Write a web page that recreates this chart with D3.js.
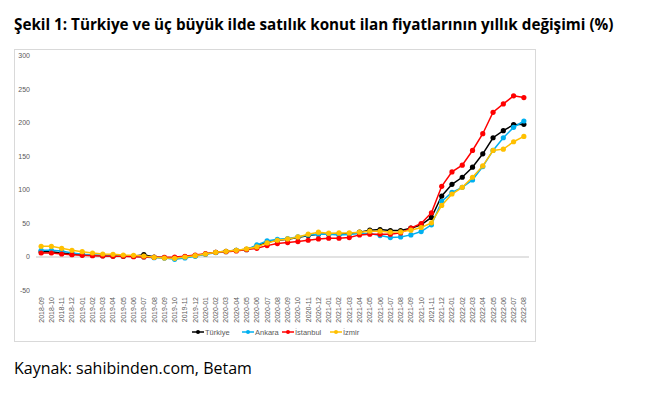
<!DOCTYPE html>
<html>
<head>
<meta charset="utf-8">
<script src="https://cdn.jsdelivr.net/npm/d3@7"></script>
<style>
  body { margin: 0; background: #fff; }
  svg text { font-family: "Liberation Sans", Arial, sans-serif; }
</style>
</head>
<body>
<div id="chart"></div>
<script>
var months = ["2018-09","2018-10","2018-11","2018-12","2019-01","2019-02","2019-03","2019-04","2019-05","2019-06",
  "2019-07","2019-08","2019-09","2019-10","2019-11","2019-12","2020-01","2020-02","2020-03","2020-04",
  "2020-05","2020-06","2020-07","2020-08","2020-09","2020-10","2020-11","2020-12","2021-01","2021-02",
  "2021-03","2021-04","2021-05","2021-06","2021-07","2021-08","2021-09","2021-10","2021-11","2021-12",
  "2022-01","2022-02","2022-03","2022-04","2022-05","2022-06","2022-07","2022-08"];

var turkiye = [8, 8, 6, 4.5, 3.5, 2.5, 2, 1.5, 1, 1,
  3.5, 0, -1, -1.5, 0, 2, 4.5, 7, 8.5, 10,
  11.5, 16, 22, 25, 26.5, 29, 32, 34, 34, 34,
  35, 37, 40, 41, 39.5, 39.5, 43, 48, 59, 91,
  108.5, 119, 134, 154, 178, 188.5, 197.5, 198];

var ankara = [10, 10, 9, 6, 4, 3, 2.5, 2, 1.5, 1,
  0, -1, -1.5, -3.5, -1.5, 1, 4, 6.5, 8, 10,
  11, 18, 24, 26.5, 27.5, 30, 33, 34, 34, 33,
  33.5, 35, 35, 32, 29, 30, 33, 38, 48, 83,
  96.5, 104, 115, 135, 159, 178, 193.5, 203];

var istanbul = [6, 6, 4.5, 3.5, 2.5, 2, 1.5, 1, 1, 0.5,
  0, -0.5, -0.5, 0, 1, 3, 5, 7, 8, 9,
  11, 13, 17, 20, 21.5, 23, 25, 27, 28, 28,
  29, 33, 34, 34, 34, 36, 43, 50, 66, 105.5,
  127, 137, 159, 184, 216, 228.5, 240.5, 238];

var izmir = [16, 16, 13, 10, 8, 6, 4.5, 4, 3, 2.5,
  1.5, -0.5, -1.5, -2, 0, 2, 4.5, 7, 8.5, 10,
  12, 15, 21, 25, 27, 30, 34, 37, 35.5, 36,
  36, 37, 38.5, 38.5, 37, 37.5, 40, 44, 51, 77,
  94, 104, 119, 136, 159, 161, 172, 180];

var seriesNames = ["Türkiye", "Ankara", "İstanbul", "İzmir"];
var seriesColors = ["#000000", "#00B0F0", "#FF0000", "#FFC000"];
var seriesValues = [turkiye, ankara, istanbul, izmir];
var yTicks = [-50, 0, 50, 100, 150, 200, 250, 300];

var titleText = "Şekil 1: Türkiye ve üç büyük ilde satılık konut ilan fiyatlarının yıllık değişimi (%)";
var sourceText = "Kaynak: sahibinden.com, Betam";

var width = 647, height = 399;

var svg = d3.select("#chart").append("svg")
  .attr("width", width)
  .attr("height", height);

// squeeze a text horizontally so it spans the target width
function fitText(sel, x0, y0, target) {
  var w = sel.node().getComputedTextLength();
  sel.attr("transform", "translate(" + x0 + "," + y0 + ") scale(" + (target / w) + ",1)");
}

var title = svg.append("text")
  .style("font-family", "'Open Sans', sans-serif")
  .style("font-weight", "bold")
  .style("font-size", "16px")
  .attr("fill", "#000")
  .text(titleText);
fitText(title, 14, 30, 600);

// chart frame
svg.append("rect")
  .attr("x", 14.5).attr("y", 49.5)
  .attr("width", 521).attr("height", 292)
  .attr("fill", "#fff")
  .attr("stroke", "#d9d9d9");

var x = d3.scaleBand().domain(months).range([36, 529]);
var y = d3.scaleLinear().domain([-50, 300]).range([290.5, 56]);
var cx = function(i) { return x(months[i]) + x.bandwidth() / 2; };

// y axis labels
svg.append("g")
  .selectAll("text")
  .data(yTicks)
  .join("text")
    .attr("x", 30)
    .attr("y", d => y(d))
    .attr("dy", "0.35em")
    .attr("text-anchor", "end")
    .attr("fill", "#595959")
    .style("font-size", "7px")
    .text(d => d);

// zero line
svg.append("line")
  .attr("x1", 36).attr("x2", 529)
  .attr("y1", y(0)).attr("y2", y(0))
  .attr("stroke", "#d9d9d9")
  .attr("stroke-width", 1.5);

// x labels (low position)
svg.append("g")
  .selectAll("text")
  .data(months)
  .join("text")
    .attr("transform", (d, i) => "translate(" + cx(i) + ",297) rotate(-90)")
    .attr("dy", "0.35em")
    .attr("text-anchor", "end")
    .attr("fill", "#595959")
    .style("font-size", "7px")
    .text(d => d);

var line = d3.line()
  .x((d, i) => cx(i))
  .y(d => y(d));

seriesValues.forEach(function(vals, k) {
  var g = svg.append("g");
  g.append("path")
    .datum(vals)
    .attr("fill", "none")
    .attr("stroke", seriesColors[k])
    .attr("stroke-width", 1.5)
    .attr("d", line);
  g.selectAll("circle")
    .data(vals)
    .join("circle")
      .attr("cx", (d, i) => cx(i))
      .attr("cy", d => y(d))
      .attr("r", 2.6)
      .attr("fill", seriesColors[k]);
});

// legend
var legendX = [192, 242, 282, 330];
var legend = svg.append("g");
seriesNames.forEach(function(name, k) {
  var lx = legendX[k], ly = 332;
  legend.append("line")
    .attr("x1", lx).attr("x2", lx + 12)
    .attr("y1", ly).attr("y2", ly)
    .attr("stroke", seriesColors[k])
    .attr("stroke-width", 1.5);
  legend.append("circle")
    .attr("cx", lx + 6).attr("cy", ly).attr("r", 2)
    .attr("fill", seriesColors[k]);
  legend.append("text")
    .attr("x", lx + 13).attr("y", ly)
    .attr("dy", "0.35em")
    .attr("fill", "#595959")
    .style("font-size", "7.5px")
    .text(name);
});

var source = svg.append("text")
  .style("font-family", "'Open Sans', sans-serif")
  .style("font-size", "16px")
  .attr("fill", "#000")
  .text(sourceText);
fitText(source, 14, 374, 238);
</script>
</body>
</html>
